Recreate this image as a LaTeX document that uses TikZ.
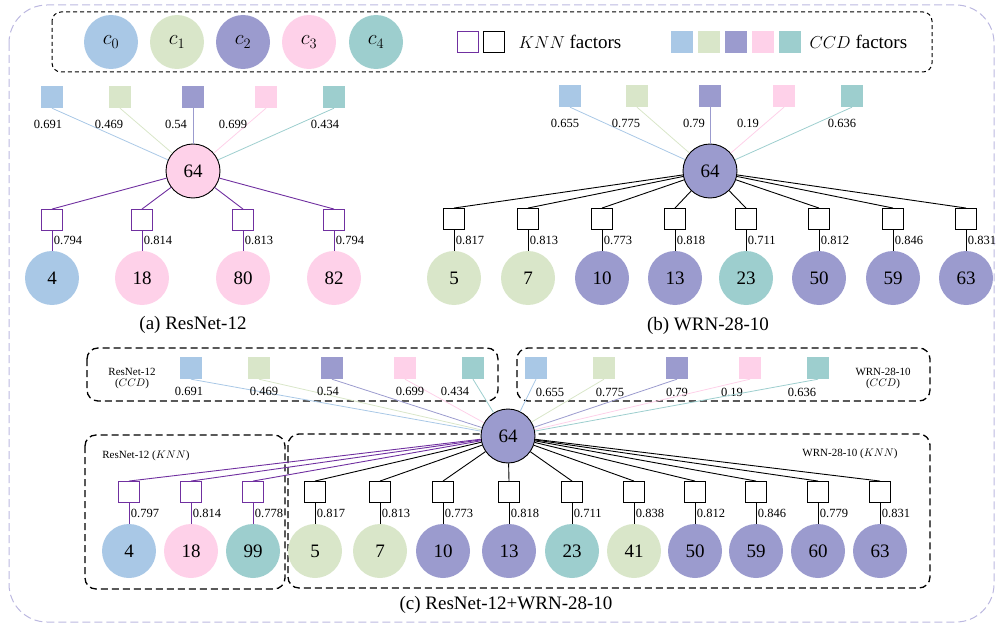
\documentclass[tikz,border=0pt]{standalone}
\usepackage{fontspec}
\setmainfont{Liberation Serif}
\usetikzlibrary{positioning,calc}
\definecolor{c0clr}{RGB}{169,200,230}
\definecolor{c1clr}{RGB}{217,230,201}
\definecolor{c2clr}{RGB}{155,155,206}
\definecolor{c3clr}{RGB}{254,209,233}
\definecolor{c4clr}{RGB}{157,206,206}
\definecolor{knnclr}{RGB}{112,48,160}
\definecolor{frameclr}{RGB}{188,184,224}
\newcommand{\fsz}[1]{\fontsize{#1}{#1}\selectfont}
\tikzset{
    cls/.style={circle,minimum size=54pt,inner sep=0pt,font=\fsz{19}},
    hub/.style={cls,draw=black,line width=0.9pt},
    knn/.style={rectangle,draw=knnclr,line width=0.9pt,fill=white,minimum size=21pt,inner sep=0pt},
    knnb/.style={knn,draw=black},
    ccd/.style={rectangle,minimum size=22pt,inner sep=0pt},
    val/.style={font=\fsz{12.5},inner sep=1.5pt},
    tag/.style={font=\fsz{11},align=center,inner sep=1pt},
    captxt/.style={font=\fsz{19}},
    grp/.style={draw,line width=1.3pt,dash pattern=on 7pt off 4pt,rounded corners=11pt},
    knnedge/.style={draw=knnclr,line width=0.9pt},
    blkedge/.style={draw=black,line width=0.9pt},
    ccdedge/.style={line width=0.8pt},
}

\begin{document}
\begin{tikzpicture}[x=1pt,y=-1pt]
\useasboundingbox (0,0) rectangle (997,626);
\draw[frameclr,line width=1pt,dash pattern=on 8pt off 4pt,rounded corners=38pt] (9,5) rectangle (994,622);

% legend
\draw[line width=1pt,dash pattern=on 4pt off 3pt,rounded corners=9pt] (52,12) rectangle (932,72);
\foreach \x [count=\i from 0] in {111,177,243,309,376}
    \node[cls,fill=c\i clr,font=\fsz{20}] (lg\i) at (\x,42) {$c_{\i}$};
\node[knn] (lgk) at (468,42) {};
\node[knnb,right=4pt of lgk] (lgb) {};
\node[font=\fsz{19},anchor=west] (lgkt) at (515,42) {$KNN$ factors};
\foreach \x [count=\i from 0] in {682,709,736,763,790}
    \node[ccd,fill=c\i clr] (lq\i) at (\x,42) {};
\node[font=\fsz{19},anchor=west] (lgct) at (806,42) {$CCD$ factors};

% (a) ResNet-12
\node[hub,fill=c3clr] (ha) at (193,171) {64};
\foreach \x/\v/\lx [count=\i from 0] in {52/0.691/48,120/0.469/109,193/0.54/176,266/0.699/233,334/0.434/325}{
    \node[ccd,fill=c\i clr] (qa\i) at (\x,97) {};
    \draw[ccdedge,draw=c\i clr] (qa\i.south) -- (ha);
    \node[val] (va\i) at (\lx,124) {\v};
}
\foreach \x/\n/\c/\v [count=\i] in {52/4/0/0.794,142/18/3/0.814,243/80/3/0.813,334/82/3/0.794}{
    \node[knn] (ka\i) at (\x,220) {};
    \node[cls,fill=c\c clr] (la\i) at (\x,278) {\n};
    \draw[knnedge] (ha) -- (ka\i.north);
    \draw[knnedge] (ka\i) -- node[val,right] {\v} (la\i);
}
\node[captxt] (capa) at (193,325) {(a) ResNet-12};

% (b) WRN-28-10
\node[hub,fill=c2clr] (hb) at (710,171) {64};
\foreach \x/\v/\lx [count=\i from 0] in {570/0.655/565,637/0.775/626,710/0.79/694,784/0.19/748,852/0.636/842}{
    \node[ccd,fill=c\i clr] (qb\i) at (\x,96) {};
    \draw[ccdedge,draw=c\i clr] (qb\i.south) -- (hb);
    \node[val] (vb\i) at (\lx,123) {\v};
}
\foreach \x/\n/\c/\v [count=\i] in {454/5/1/0.817,528/7/1/0.813,602/10/2/0.773,675/13/2/0.818,746/23/4/0.711,819/50/2/0.812,893/59/2/0.846,966/63/2/0.831}{
    \node[knnb] (kb\i) at (\x,219) {};
    \node[cls,fill=c\c clr] (lb\i) at (\x,278) {\n};
    \draw[blkedge] (hb) -- (kb\i.north);
    \draw[blkedge] (kb\i) -- node[val,right] {\v} (lb\i);
}
\node[captxt] (capb) at (708,326) {(b) WRN-28-10};

% (c) ResNet-12+WRN-28-10
\draw[grp] (87,348) rectangle (498,401);
\draw[grp] (517,348) rectangle (930,401);
\draw[grp] (85,435) rectangle (285,589);
\draw[grp] (288,434) rectangle (930,588);
\node[tag] (tc1) at (132,379) {ResNet-12\\($CCD$)};
\node[tag] (tc2) at (883,379) {WRN-28-10\\($CCD$)};
\node[tag] (tk1) at (146,456) {ResNet-12 ($KNN$)};
\node[tag] (tk2) at (850,454) {WRN-28-10 ($KNN$)};

\node[hub,fill=c2clr] (hc) at (508,436) {64};
\foreach \x/\v/\lx [count=\i from 0] in {191/0.691/189,259/0.469/264,332/0.54/328,405/0.699/410,473/0.434/455}{
    \node[ccd,fill=c\i clr] (qc\i) at (\x,368) {};
    \draw[ccdedge,draw=c\i clr] (qc\i.south) -- (hc);
    \node[val] (vc\i) at (\lx,391) {\v};
}
\foreach \x/\v/\lx [count=\i from 0] in {536/0.655/550,604/0.775/610,677/0.79/677,750/0.19/732,818/0.636/802}{
    \node[ccd,fill=c\i clr] (qd\i) at (\x,368) {};
    \draw[ccdedge,draw=c\i clr] (qd\i.south) -- (hc);
    \node[val] (vd\i) at (\lx,392) {\v};
}
\foreach \x/\n/\c/\v [count=\i] in {129/4/0/0.797,191/18/3/0.814,253/99/4/0.778}{
    \node[knn] (kc\i) at (\x,492) {};
    \node[cls,fill=c\c clr] (lc\i) at (\x,551) {\n};
    \draw[knnedge] (hc) -- (kc\i.north);
    \draw[knnedge] (kc\i) -- node[val,right] {\v} (lc\i);
}
\foreach \x/\n/\c/\v [count=\i] in {315/5/1/0.817,380/7/1/0.813,443/10/2/0.773,509/13/2/0.818,572/23/4/0.711,634/41/1/0.838,695/50/2/0.812,756/59/2/0.846,818/60/2/0.779,880/63/2/0.831}{
    \node[knnb] (kd\i) at (\x,492) {};
    \node[cls,fill=c\c clr] (ld\i) at (\x,551) {\n};
    \draw[blkedge] (hc) -- (kd\i.north);
    \draw[blkedge] (kd\i) -- node[val,right] {\v} (ld\i);
}
\node[captxt] (capc) at (506,605) {(c) ResNet-12+WRN-28-10};
\end{tikzpicture}
\end{document}
